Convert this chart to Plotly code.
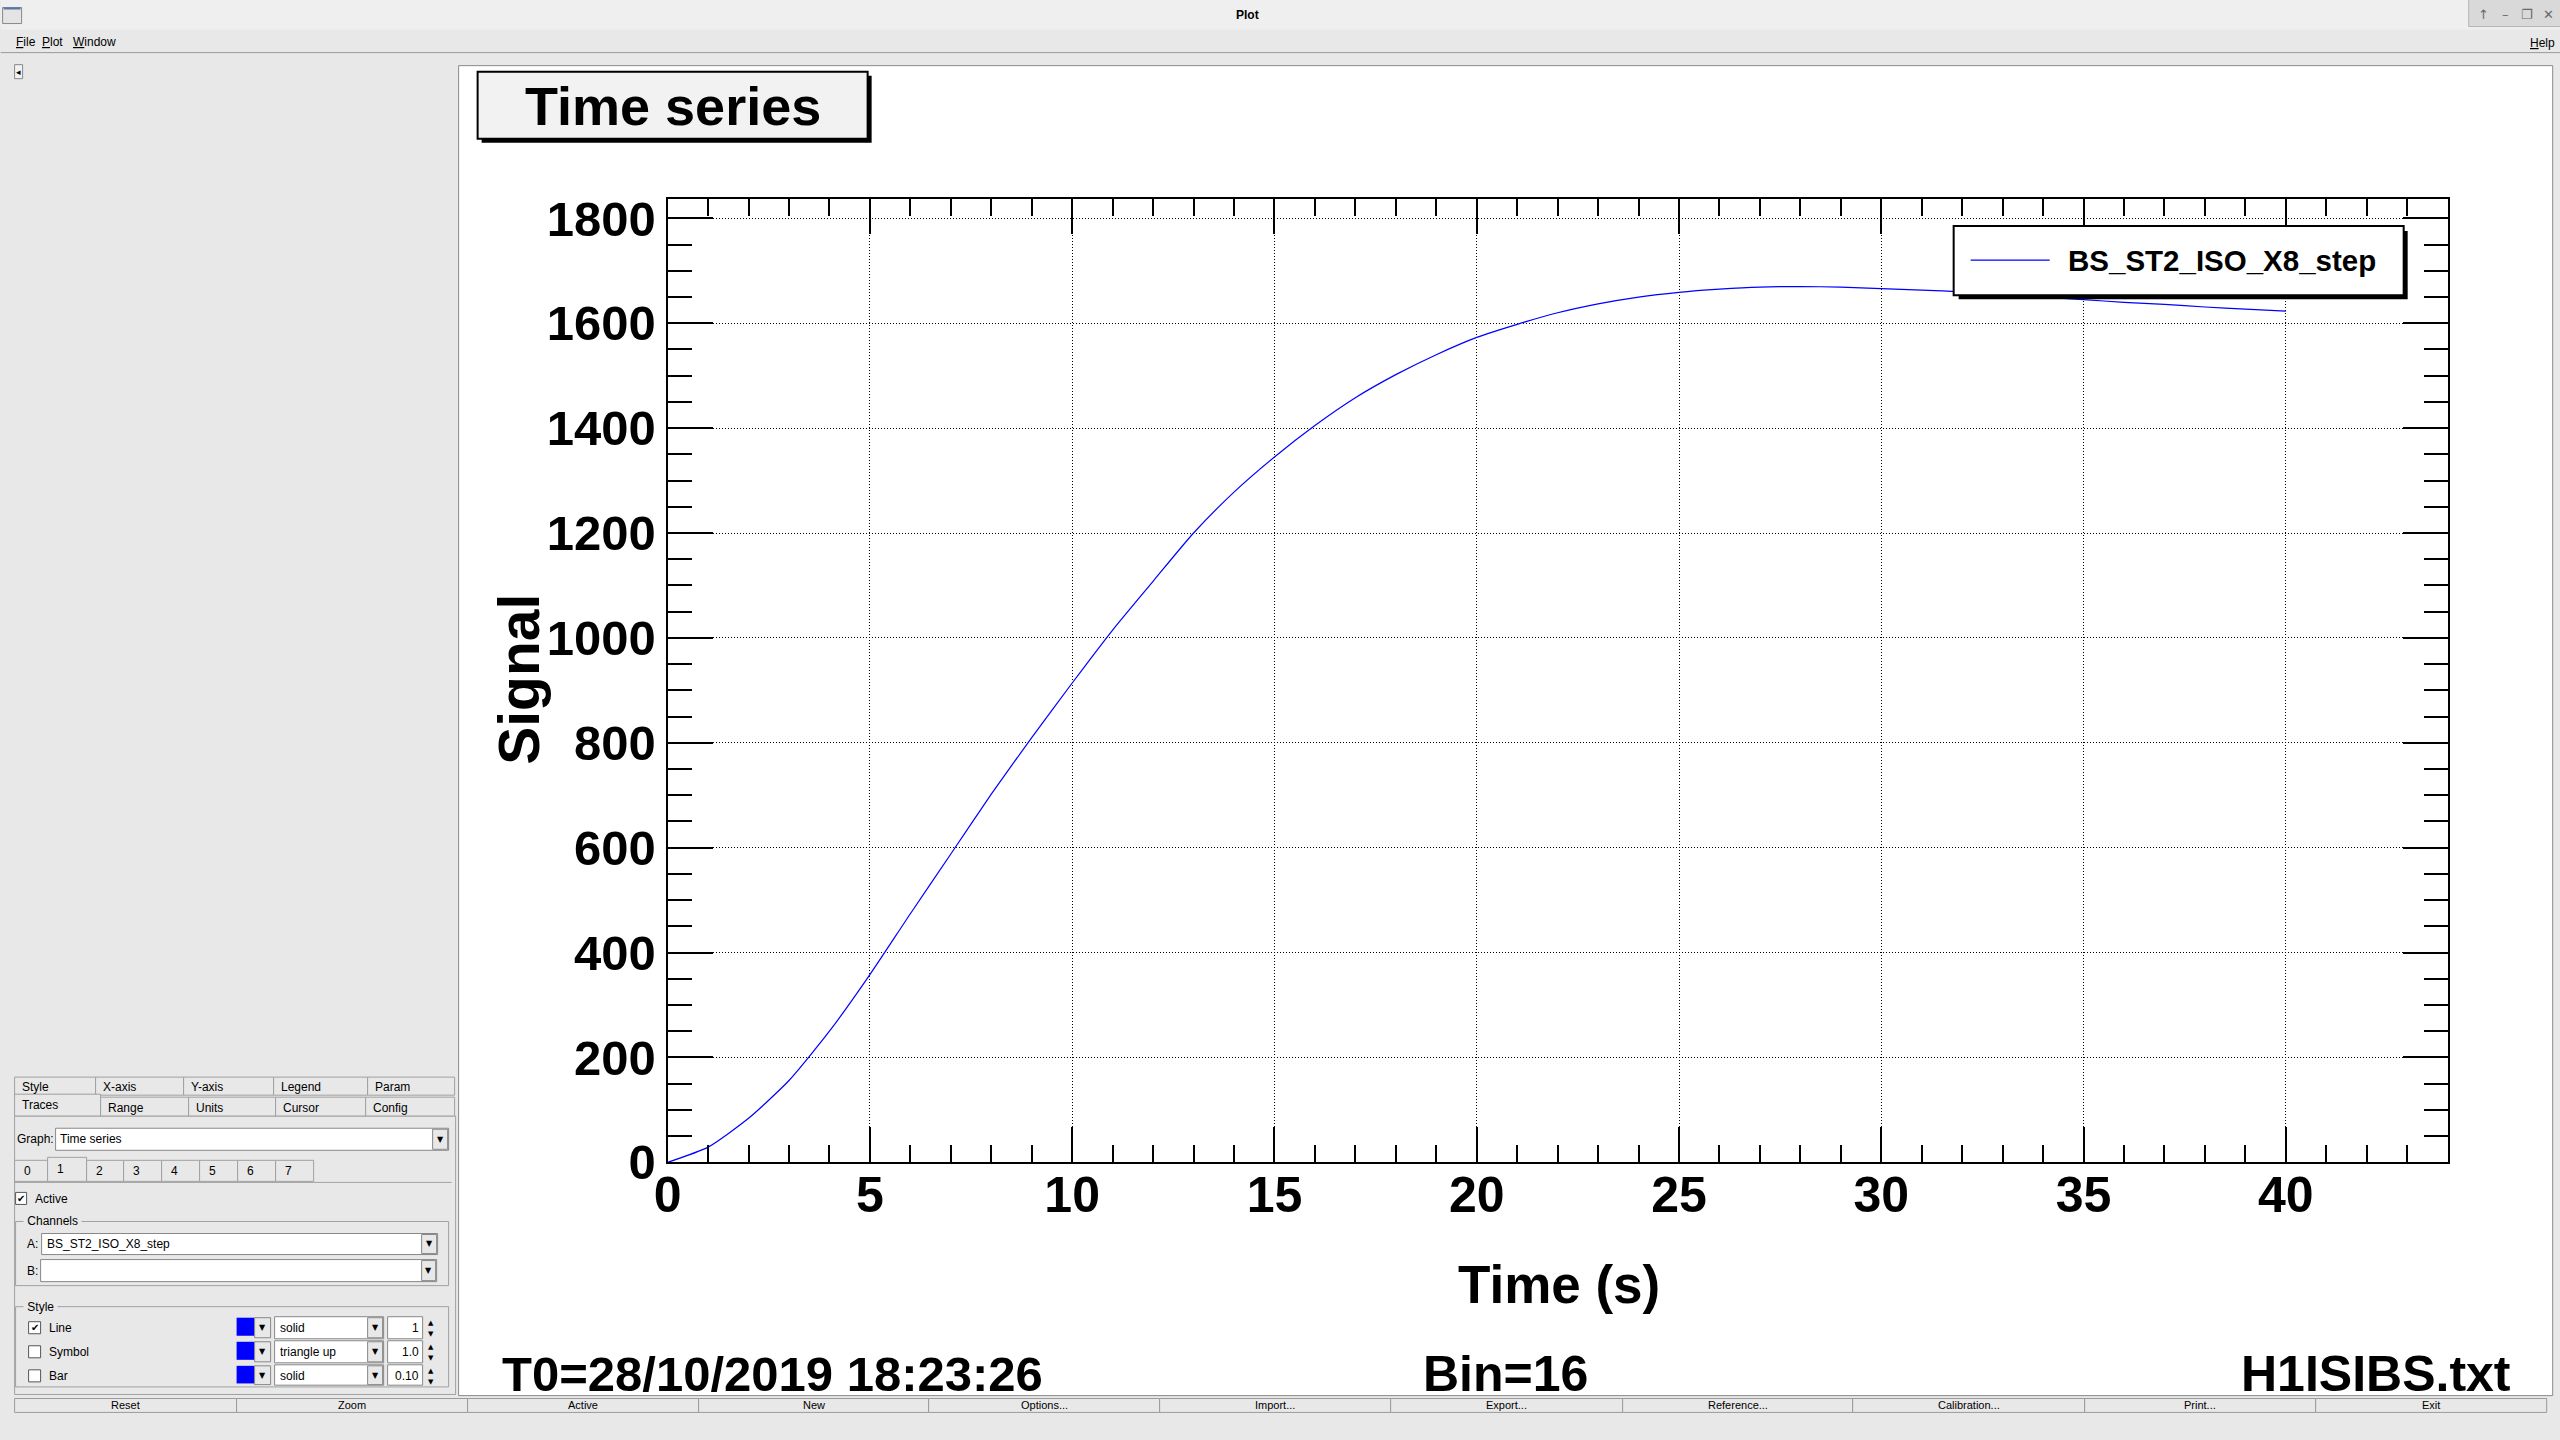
import plotly.graph_objects as go

time_s = [0, 1, 2, 3, 4, 5, 6, 7, 8, 9, 10,
          11, 12, 13, 14, 15, 16, 17, 18, 19, 20,
          21, 22, 23, 24, 25, 26, 27, 28, 29, 30,
          31, 32, 33, 34, 35, 36, 37, 38, 39, 40]
signal = [0, 29, 84, 156, 250, 358, 474, 588, 702, 810, 914,
          1015, 1108, 1200, 1278, 1345, 1405, 1458, 1502, 1540, 1573,
          1598, 1620, 1637, 1650, 1659, 1665, 1669, 1670, 1669, 1666,
          1663, 1660, 1655, 1650, 1645, 1640, 1636, 1631, 1627, 1623]
channel = "BS_ST2_ISO_X8_step"

x_ticks = [0, 5, 10, 15, 20, 25, 30, 35, 40]
y_ticks = [0, 200, 400, 600, 800, 1000, 1200, 1400, 1600, 1800]

buttons = ["Reset", "Zoom", "Active", "New", "Options...", "Import...", "Export...",
           "Reference...", "Calibration...", "Print...", "Exit"]
tabs_top = ["Style", "X-axis", "Y-axis", "Legend", "Param"]
tabs_bottom = ["Traces", "Range", "Units", "Cursor", "Config"]

W, H = 2560, 1440
FONT = "Liberation Sans"
GREY = "#e8e8e8"
EDGE = "#a0a0a0"

# positions below are screen pixels of the target shot; the photographed page
# comes out shifted/squeezed a bit, so map them back to page pixels here
SX, AX = 0.9945, 13.4
SY, AY = 0.974, 7.5

shapes = []
annots = []


def page_y(y):
    p = (y - AY) / SY
    if y > 1380:  # squeeze the button row so it still fits on the page
        p0 = (1380 - AY) / SY
        p = p0 + (y - 1380) * (H - p0) / 52
    return p


def fx(x):
    return ((x - AX) / SX) / W


def fy(y):
    return 1 - page_y(y) / H


def rect(x0, y0, x1, y1, fill=None, line=EDGE, lw=1, layer="below"):
    shapes.append(dict(type="rect", xref="paper", yref="paper",
                       x0=fx(x0), x1=fx(x1), y0=fy(y1), y1=fy(y0),
                       fillcolor=fill or "rgba(0,0,0,0)",
                       line=dict(color=line, width=lw), layer=layer))


def hline(x0, x1, y, color=EDGE, lw=1, layer="below"):
    shapes.append(dict(type="line", xref="paper", yref="paper",
                       x0=fx(x0), x1=fx(x1), y0=fy(y), y1=fy(y),
                       line=dict(color=color, width=lw), layer=layer))


def text(x, y, s, size=12, anchor="left", bold=False, color="black", angle=0, bg=None, family=FONT):
    annots.append(dict(xref="paper", yref="paper", x=fx(x), y=fy(y), text=s,
                       showarrow=False, xanchor=anchor, yanchor="middle", textangle=angle,
                       bgcolor=bg, borderpad=0,
                       font=dict(family=family, size=size, color=color,
                                 weight="bold" if bold else "normal")))


# ---- window chrome ----
rect(0, 0, 2560, 30, fill="#efefef", lw=0)
rect(2, 8, 21, 24, fill="#e4e4e4", line="#888888")
rect(3, 8, 20, 10, fill="#5577aa", lw=0)
text(1247, 15, "Plot", size=12, anchor="center", bold=True)
rect(2468, 0, 2560, 27, fill="#d9d9d9", line="#b5b5b5")
for xi, g in zip([2483, 2505, 2526, 2548], ["↑", "–", "❐", "✕"]):
    text(xi, 15, g, size=13, anchor="center", color="#6a6a6a", family="DejaVu Sans")

hline(0, 2560, 53, color="#999999")
text(14, 42, "<u>F</u>ile", size=12)
text(40, 42, "<u>P</u>lot", size=12)
text(71, 42, "<u>W</u>indow", size=12)
text(2555, 43, "<u>H</u>elp", size=12, anchor="right")

rect(14, 65, 22, 79, fill="#f2f2f2", line="#888888")
text(18, 72, "◂", size=9, anchor="center", family="DejaVu Sans")

# plot canvas
rect(458, 66, 2552, 1402, fill="white", line="#8a8a8a")

# ---- left control panel ----
tab_edges_top = [14, 95, 183, 273, 367, 454]
for i, name in enumerate(tabs_top):
    rect(tab_edges_top[i], 1075, tab_edges_top[i + 1], 1093, fill=GREY)
    text(max(tab_edges_top[i] + 6, 16), 1085, name, size=12)
tab_edges_bot = [14, 100, 188, 275, 365, 454]
for i, name in enumerate(tabs_bottom):
    top = 1092 if i == 0 else 1095
    rect(tab_edges_bot[i], top, tab_edges_bot[i + 1], 1114, fill=GREY)
    text(max(tab_edges_bot[i] + 6, 15), 1103 if i == 0 else 1106, name, size=12)
rect(14, 1114, 455, 1400, fill=GREY)

text(15, 1137, "Graph:", size=12)
rect(55, 1126, 448, 1148, fill="white", line="#888888")
rect(432, 1127, 447, 1147, fill=GREY, line="#888888")
text(439.5, 1137, "▼", size=8, anchor="center", family="DejaVu Sans")
text(58, 1137, "Time series", size=12)

sub_edges = [14, 47, 86, 123, 161, 199, 237, 275, 313]
for i in range(8):
    top = 1155 if i == 1 else 1158
    rect(sub_edges[i], top, sub_edges[i + 1], 1179, fill=GREY)
    text(max(sub_edges[i] + 8, 18), 1167 if i == 1 else 1169, str(i), size=12)
hline(14, 451, 1180)

rect(15, 1190, 26, 1202, fill="white", line="#555555")
text(20.5, 1196, "✔", size=10, anchor="center", family="DejaVu Sans")
text(33, 1197, "Active", size=12)

rect(15, 1219, 448, 1283)
text(22, 1219, " Channels ", size=12, bg=GREY)
text(25, 1241, "A:", size=12)
rect(41, 1231, 437, 1252, fill="white", line="#888888")
rect(421, 1232, 436, 1251, fill=GREY, line="#888888")
text(428.5, 1241, "▼", size=8, anchor="center", family="DejaVu Sans")
text(45, 1241, channel, size=12)
text(25, 1268, "B:", size=12)
rect(40, 1257, 436, 1279, fill="white", line="#888888")
rect(421, 1258, 435, 1278, fill=GREY, line="#888888")
text(428, 1268, "▼", size=8, anchor="center", family="DejaVu Sans")

rect(15, 1304, 448, 1387)
text(22, 1304, " Style ", size=12, bg=GREY)
rows = [("Line", "solid", "1", True), ("Symbol", "triangle up", "1.0", False), ("Bar", "solid", "0.10", False)]
for (name, style, num, checked), yc in zip(rows, [1325, 1349, 1373]):
    rect(28, yc - 6, 40, yc + 6, fill="white", line="#555555")
    if checked:
        text(34, yc, "✔", size=10, anchor="center", family="DejaVu Sans")
    text(47, yc, name, size=12)
    rect(236, yc - 10, 254, yc + 8, fill="#0000ff", lw=0)
    rect(254, yc - 10, 270, yc + 10, fill=GREY, line="#888888")
    text(262, yc, "▼", size=8, anchor="center", family="DejaVu Sans")
    rect(274, yc - 11, 383, yc + 11, fill="white", line="#888888")
    rect(367, yc - 10, 382, yc + 10, fill=GREY, line="#888888")
    text(374.5, yc, "▼", size=8, anchor="center", family="DejaVu Sans")
    text(278, yc, style, size=12)
    rect(387, yc - 11, 422, yc + 11, fill="white", line="#888888")
    text(419, yc, num, size=12, anchor="right")
    text(430, yc - 5, "▲", size=7, anchor="center", family="DejaVu Sans")
    text(430, yc + 6, "▼", size=7, anchor="center", family="DejaVu Sans")

btn_edges = [14, 236, 467, 698, 928, 1159, 1390, 1622, 1852, 2084, 2315, 2546]
for i, name in enumerate(buttons):
    rect(btn_edges[i], 1407, btn_edges[i + 1], 1431, fill=GREY, line="#9a9a9a")
    text((max(btn_edges[i], 5) + btn_edges[i + 1]) / 2, 1419, name, size=11, anchor="center")

# ---- ROOT style boxes inside the canvas ----
rect(481, 76, 871, 143, fill="black", lw=0, layer="above")
rect(477, 72, 867, 139, fill="#f2f2f2", line="black", lw=2, layer="above")
text(672, 106, "Time series", size=54, anchor="center", bold=True)

rect(1958, 231, 2407, 299, fill="black", lw=0, layer="above")
rect(1953, 226, 2403, 295, fill="white", line="black", lw=2, layer="above")
hline(1970, 2049, 260, color="#0000ff", lw=1.2, layer="above")
text(2066, 260, channel, size=29.5, bold=True)

text(1558, 1282, "Time (s)", size=53, anchor="center", bold=True)
text(519, 678, "Signal", size=57, anchor="center", bold=True, angle=-90)
text(500, 1371, "T0=28/10/2019 18:23:26", size=49, bold=True)
text(1505, 1371, "Bin=16", size=50, anchor="center", bold=True)
text(2511, 1371, "H1ISIBS.txt", size=50, anchor="right", bold=True)

fig = go.Figure()
fig.add_trace(go.Scatter(x=time_s, y=signal, mode="lines", name=channel,
                         line=dict(color="#0000ff", width=1.2, shape="spline", smoothing=0.6),
                         showlegend=False))

axis_common = dict(showline=True, linecolor="black", linewidth=2, mirror="ticks",
                   ticks="inside", tickcolor="black", tickwidth=1.5,
                   showgrid=True, gridcolor="black", gridwidth=1, griddash="1px,2px",
                   zeroline=False)

fig.update_xaxes(range=[0, 44], domain=[fx(667), fx(2447)], tickvals=x_ticks,
                 ticktext=[str(v) for v in x_ticks], ticklen=35, ticklabelstandoff=-12,
                 tickfont=dict(family=FONT, size=50, color="black", weight="bold"),
                 minor=dict(ticks="inside", ticklen=17.5, dtick=1, tickwidth=1.5, tickcolor="black", showgrid=False),
                 **axis_common)
fig.update_yaxes(range=[0, 1837], domain=[fy(1160), fy(199)], tickvals=y_ticks,
                 ticktext=[str(v) for v in y_ticks], ticklen=45, ticklabelstandoff=0,
                 tickfont=dict(family=FONT, size=49, color="black", weight="bold"),
                 minor=dict(ticks="inside", ticklen=24, dtick=50, tickwidth=1.5, tickcolor="black", showgrid=False),
                 **axis_common)

fig.update_layout(width=W, height=H, autosize=False,
                  margin=dict(l=0, r=0, t=0, b=0),
                  paper_bgcolor=GREY, plot_bgcolor="white",
                  shapes=shapes, annotations=annots, showlegend=False)

fig.write_html("out.html", config={"displayModeBar": False},
               post_script="document.body.style.margin='0';")
